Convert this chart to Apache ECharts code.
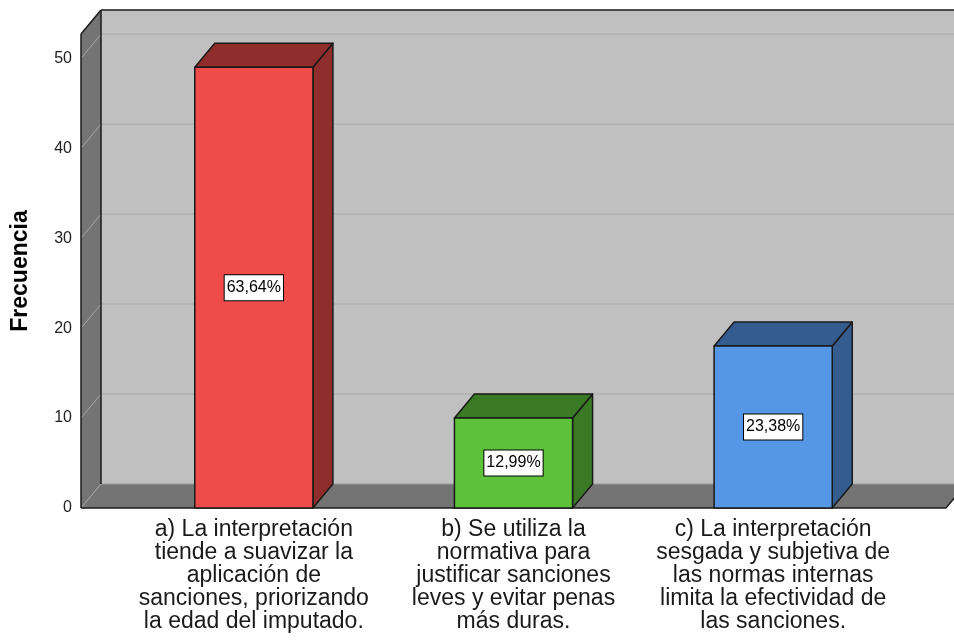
<!DOCTYPE html>
<html>
<head>
<meta charset="utf-8">
<script src="https://cdn.jsdelivr.net/npm/echarts@6/dist/echarts.min.js"></script>
<style>
	html, body { margin: 0; padding: 0; background: #fff; }
	#chart { width: 954px; height: 641px; }
</style>
</head>
<body>
<div id="chart"></div>
<script>
	// datos
	var categories = [
		'a) La interpretación\ntiende a suavizar la\naplicación de\nsanciones, priorizando\nla edad del imputado.',
		'b) Se utiliza la\nnormativa para\njustificar sanciones\nleves y evitar penas\nmás duras.',
		'c) La interpretación\nsesgada y subjetiva de\nlas normas internas\nlimita la efectividad de\nlas sanciones.'
	];
	var counts = [49, 10, 18];
	var pctLabels = ['63,64%', '12,99%', '23,38%'];
	var yTicks = [0, 10, 20, 30, 40, 50];

	var frontColors = ['#ef4b4b', '#5dc13a', '#5596e5'];
	var sideColors = ['#8f2c2c', '#3a7a24', '#345c8e'];

	var DX = 20, DY = -24, EXT = 43; // profundidad 3D y extensión de paredes
	var FONT = '"Liberation Sans", Arial, sans-serif';

	var chart = echarts.init(document.getElementById('chart'));

	function renderWalls(params, api) {
		var cs = params.coordSys;
		var x0 = cs.x - EXT, x1 = cs.x + cs.width + EXT;
		var yb = api.coord([0, 0])[1];
		var yt = cs.y;
		var edge = { stroke: '#1a1a1a', lineWidth: 1.5 };
		var children = [];
		// pared del fondo
		children.push({ type: 'rect', shape: { x: x0 + DX, y: yt + DY, width: x1 - x0 + 10, height: yb - yt }, style: { fill: '#c0c0c0' } });
		// pared lateral
		children.push({ type: 'polygon', shape: { points: [[x0, yb], [x0 + DX, yb + DY], [x0 + DX, yt + DY], [x0, yt]] }, style: { fill: '#747474' } });
		// suelo
		children.push({ type: 'polygon', shape: { points: [[x0, yb], [x0 + DX, yb + DY], [x1 + DX, yb + DY], [x1, yb]] }, style: { fill: '#747474' } });
		children.push({ type: 'line', shape: { x1: x0 + DX, y1: yb + DY, x2: x1 + DX + 10, y2: yb + DY }, style: { stroke: '#9a9a9a', lineWidth: 1 } });
		// líneas de rejilla
		yTicks.forEach(function(v) {
			var y = api.coord([0, v])[1];
			if(v > 0) {
				children.push({ type: 'line', shape: { x1: x0 + DX, y1: y + DY, x2: x1 + DX + 10, y2: y + DY }, style: { stroke: '#b2b2b2', lineWidth: 1.5 } });
			}
			children.push({ type: 'line', shape: { x1: x0, y1: y, x2: x0 + DX, y2: y + DY }, style: { stroke: '#a6a6a6', lineWidth: 1 } });
		});
		// bordes
		children.push({ type: 'line', shape: { x1: x0 + DX, y1: yt + DY, x2: x1 + DX + 10, y2: yt + DY }, style: edge });
		children.push({ type: 'line', shape: { x1: x0 + DX, y1: yt + DY, x2: x0 + DX, y2: yb + DY }, style: edge });
		children.push({ type: 'line', shape: { x1: x0, y1: yt, x2: x0 + DX, y2: yt + DY }, style: edge });
		children.push({ type: 'line', shape: { x1: x0, y1: yt, x2: x0, y2: yb }, style: edge });
		children.push({ type: 'line', shape: { x1: x0, y1: yb, x2: x1, y2: yb }, style: edge });
		children.push({ type: 'line', shape: { x1: x1, y1: yb, x2: x1 + DX, y2: yb + DY }, style: edge });
		return { type: 'group', children: children };
	}

	function renderBar(params, api) {
		var i = api.value(0), v = api.value(1);
		var top = api.coord([i, v]);
		var base = api.coord([i, 0]);
		var w = api.size([1, 0])[0] * 0.455;
		var l = top[0] - w / 2, r = top[0] + w / 2;
		var yt = top[1], yb = base[1];
		var stroke = { stroke: '#1a1a1a', lineWidth: 1.5, lineJoin: 'round' };
		return {
			type: 'group',
			children: [
				{ type: 'polygon', shape: { points: [[r, yb], [r + DX, yb + DY], [r + DX, yt + DY], [r, yt]] },
					style: Object.assign({ fill: sideColors[i] }, stroke) },
				{ type: 'polygon', shape: { points: [[l, yt], [l + DX, yt + DY], [r + DX, yt + DY], [r, yt]] },
					style: Object.assign({ fill: sideColors[i] }, stroke) },
				{ type: 'rect', shape: { x: l, y: yt, width: w, height: yb - yt },
					style: Object.assign({ fill: frontColors[i] }, stroke) },
				{ type: 'text', style: {
					text: pctLabels[i], x: top[0], y: (yt + yb) / 2,
					align: 'center', verticalAlign: 'middle', textAlign: 'center', textVerticalAlign: 'middle',
					font: '16px ' + FONT, fill: '#000',
					backgroundColor: '#fff', borderColor: '#000', borderWidth: 1, padding: [5, 2, 4, 2]
				} }
			]
		};
	}

	var option = {
		animation: false,
		backgroundColor: '#fff',
		grid: { left: 124, right: 51, top: 34, bottom: 133, containLabel: false, outerBoundsMode: 'none' },
		xAxis: {
			type: 'category',
			data: categories,
			axisLine: { show: false },
			axisTick: { show: false },
			axisLabel: {
				interval: 0,
				margin: 10,
				fontSize: 23,
				lineHeight: 23,
				color: '#1a1a1a',
				fontFamily: FONT
			}
		},
		yAxis: {
			type: 'value',
			min: 0,
			max: 52.7,
			interval: 10,
			offset: EXT,
			name: 'Frecuencia',
			nameLocation: 'middle',
			nameGap: 49,
			nameTextStyle: { fontSize: 23, fontWeight: 'bold', color: '#000', fontFamily: FONT },
			axisLine: { show: false },
			axisTick: { show: false },
			splitLine: { show: false },
			axisLabel: {
				margin: 9,
				fontSize: 16,
				color: '#222',
				fontFamily: FONT,
				formatter: function(v) { return v % 10 === 0 ? v : ''; }
			}
		},
		series: [{
				type: 'custom',
				clip: false,
				z: 1,
				silent: true,
				renderItem: renderWalls,
				data: [[0, 0]]
			},
			{
				type: 'custom',
				clip: false,
				z: 2,
				renderItem: renderBar,
				encode: { x: 0, y: 1 },
				data: counts.map(function(c, i) { return [i, c]; })
			}
		]
	};
	chart.setOption(option);
</script>
</body>
</html>
